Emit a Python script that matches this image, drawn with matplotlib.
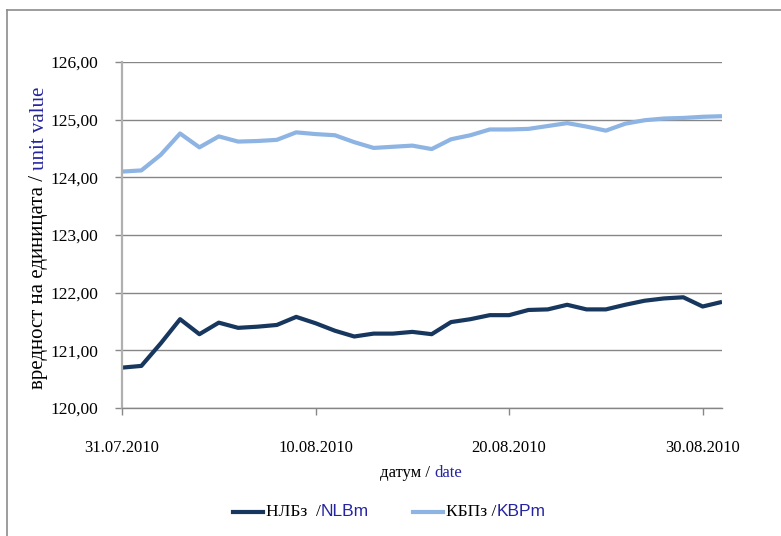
import matplotlib
matplotlib.use("Agg")
import matplotlib.pyplot as plt
import matplotlib.dates as mdates
from matplotlib.lines import Line2D
import pandas as pd

dates = pd.date_range("2010-07-31", "2010-08-31", freq="D")
nlb = [120.70, 120.73, 121.12, 121.54, 121.28, 121.48, 121.39, 121.41, 121.44, 121.58,
       121.47, 121.34, 121.24, 121.29, 121.29, 121.32, 121.28, 121.49, 121.54, 121.61,
       121.61, 121.70, 121.71, 121.79, 121.71, 121.71, 121.79, 121.86, 121.90, 121.92,
       121.76, 121.84]
kbp = [124.10, 124.12, 124.39, 124.76, 124.52, 124.71, 124.62, 124.63, 124.65, 124.78,
       124.75, 124.73, 124.61, 124.51, 124.53, 124.55, 124.49, 124.66, 124.73, 124.83,
       124.83, 124.84, 124.89, 124.94, 124.88, 124.81, 124.93, 124.99, 125.02, 125.03,
       125.05, 125.06]
xtick_dates = pd.to_datetime(["2010-07-31", "2010-08-10", "2010-08-20", "2010-08-30"])
yticks = [120, 121, 122, 123, 124, 125, 126]

series_names = [("НЛБз  /", "NLBm"), ("КБПз /", "KBPm")]
colors = ["#17375E", "#8DB4E2"]
blue_txt = "#2424A0"
serif = "Liberation Serif"

W, H = 781, 536
fig = plt.figure(figsize=(W / 100, H / 100), dpi=100)
ax = fig.add_axes([122 / W, 1 - 408 / H, 600 / W, 346 / H])

ax.plot(dates, nlb, color=colors[0], lw=3.0, solid_capstyle="butt")
ax.plot(dates, kbp, color=colors[1], lw=3.0, solid_capstyle="butt")

ax.set_xlim(dates[0], dates[-1])
ax.set_ylim(120, 126)
ax.set_yticks(yticks)
ax.set_yticklabels([f"{v:.2f}".replace(".", ",") for v in yticks],
                   fontfamily=serif, fontsize=12.5)
ax.set_xticks(xtick_dates)
ax.xaxis.set_major_formatter(mdates.DateFormatter("%d.%m.%Y"))
for lab in ax.get_xticklabels():
    lab.set_fontfamily(serif)
    lab.set_fontsize(12)
ax.tick_params(axis="y", length=5, width=1, color="#888888", pad=12)
ax.tick_params(axis="x", length=5, width=1, color="#888888", pad=18)
ax.grid(axis="y", color="#868686", lw=1)
ax.set_axisbelow(True)
for s in ["top", "right"]:
    ax.spines[s].set_visible(False)
ax.spines["left"].set_color("#B0B0B0")
ax.spines["left"].set_linewidth(1.6)
ax.spines["bottom"].set_color("#868686")
ax.spines["bottom"].set_linewidth(1)

# chart-area frame (left and top edges visible)
fig.add_artist(Line2D([7 / W, 7 / W], [0, 1 - 10 / H], transform=fig.transFigure,
                      color="#8C8C8C", lw=1.2))
fig.add_artist(Line2D([7 / W, 1], [1 - 10 / H, 1 - 10 / H], transform=fig.transFigure,
                      color="#8C8C8C", lw=1.2))

renderer = fig.canvas.get_renderer()


def pieces_h(parts, x_px, y_px, center=True, size=12.5):
    texts = []
    for s, c, fam in parts:
        t = fig.text(0, 1 - y_px / H, s, color=c, fontfamily=fam, fontsize=size,
                     ha="left", va="center")
        texts.append(t)
    widths = [t.get_window_extent(renderer).width for t in texts]
    total = sum(widths)
    x = x_px - total / 2 if center else x_px
    for t, w in zip(texts, widths):
        t.set_x(x / W)
        x += w
    return x


def pieces_v(parts, x_px, y_center_px, size=12.5):
    texts = []
    for s, c, fam in parts:
        t = fig.text(x_px / W, 0, s, color=c, fontfamily=fam, fontsize=size,
                     ha="center", va="bottom", rotation=90)
        texts.append(t)
    heights = [t.get_window_extent(renderer).height for t in texts]
    total = sum(heights)
    y = (H - y_center_px) - total / 2
    for t, h in zip(texts, heights):
        t.set_y(y / H)
        y += h


pieces_v([("вредност на единицата / ", "black", serif), ("unit value", blue_txt, serif)],
         39, 238, size=15)
pieces_h([("датум / ", "black", serif), ("date", blue_txt, serif)], 421, 473, size=12)

# legend
leg_y = 512
for (blk, blu), col, x0 in zip(series_names, colors, [233, 413]):
    fig.add_artist(Line2D([x0 / W, (x0 + 30) / W], [1 - leg_y / H, 1 - leg_y / H],
                          transform=fig.transFigure, color=col, lw=3.0))
    pieces_h([(blk, "black", serif), (blu, blue_txt, "Liberation Sans")],
             x0 + 33, leg_y, center=False, size=12.5)

fig.savefig("out.png", dpi=100)
